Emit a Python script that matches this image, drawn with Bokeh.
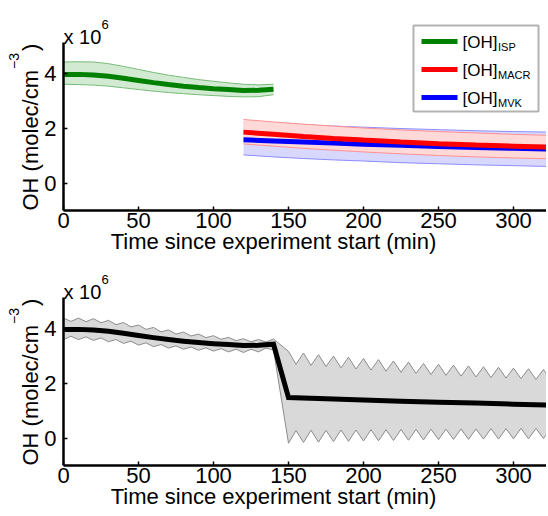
import math
from bokeh.plotting import figure
from bokeh.models import Label, BoxAnnotation, Range1d, FixedTicker
from bokeh.layouts import column
from bokeh.embed import file_html
from bokeh.resources import INLINE

# ---------------- data (OH in units of 1e6 molec/cm^3) ----------------
t_isp = [0, 10, 20, 30, 40, 50, 60, 70, 80, 90, 100, 110, 120, 130, 140]
oh_isp = [3.95, 3.95, 3.93, 3.88, 3.81, 3.73, 3.65, 3.58, 3.52, 3.47, 3.43, 3.40, 3.36, 3.37, 3.41]
oh_isp_hi = [4.40, 4.41, 4.40, 4.34, 4.24, 4.13, 4.02, 3.92, 3.84, 3.76, 3.70, 3.64, 3.59, 3.57, 3.59]
oh_isp_lo = [3.59, 3.58, 3.56, 3.52, 3.46, 3.40, 3.34, 3.29, 3.25, 3.21, 3.18, 3.15, 3.13, 3.14, 3.21]

t_mx = [120, 140, 160, 180, 200, 225, 250, 275, 300, 325]
oh_macr = [1.85, 1.77, 1.69, 1.62, 1.56, 1.49, 1.43, 1.38, 1.34, 1.30]
oh_macr_hi = [2.31, 2.22, 2.14, 2.07, 2.00, 1.93, 1.87, 1.82, 1.77, 1.73]
oh_macr_lo = [1.42, 1.34, 1.26, 1.19, 1.13, 1.06, 1.00, 0.95, 0.91, 0.88]
oh_mvk = [1.57, 1.53, 1.49, 1.45, 1.41, 1.37, 1.33, 1.29, 1.26, 1.23]
oh_mvk_hi = [2.20, 2.17, 2.12, 2.07, 2.03, 1.98, 1.94, 1.90, 1.87, 1.85]
oh_mvk_lo = [1.02, 0.95, 0.89, 0.84, 0.80, 0.74, 0.70, 0.66, 0.63, 0.60]

# combined OH after the switch from isoprene to MACR/MVK
t_comb = [150, 175, 200, 225, 250, 275, 300, 325]
oh_comb = [1.47, 1.43, 1.38, 1.34, 1.30, 1.27, 1.23, 1.20]

# combined uncertainty envelope (read at 5-min steps)
t_env_a = [0, 5, 10, 15, 20, 25, 30, 35, 40, 45, 50, 55, 60, 65, 70, 75, 80, 85, 90, 95,
           100, 105, 110, 115, 120, 125, 130, 135, 140]
env_hi_a = [4.36, 4.24, 4.36, 4.23, 4.34, 4.19, 4.28, 4.12, 4.20, 4.04, 4.11, 3.95, 4.02, 3.86,
            3.93, 3.78, 3.85, 3.71, 3.78, 3.65, 3.72, 3.59, 3.66, 3.54, 3.61, 3.50, 3.58, 3.49, 3.60]
env_lo_a = [3.58, 3.70, 3.58, 3.68, 3.55, 3.64, 3.50, 3.58, 3.44, 3.52, 3.38, 3.46, 3.32, 3.40,
            3.27, 3.35, 3.23, 3.31, 3.19, 3.28, 3.16, 3.25, 3.13, 3.23, 3.11, 3.23, 3.13, 3.27, 3.20]
t_env_b = [150, 155, 160, 165, 170, 175, 180, 185, 190, 195, 200, 205, 210, 215, 220, 225, 230,
           235, 240, 245, 250, 255, 260, 265, 270, 275, 280, 285, 290, 295, 300, 305, 310, 315, 320, 325]
env_hi_b = [3.15, 2.68, 3.09, 2.64, 3.03, 2.60, 2.98, 2.55, 2.94, 2.51, 2.89, 2.47, 2.85, 2.43,
            2.80, 2.39, 2.76, 2.35, 2.71, 2.31, 2.68, 2.28, 2.65, 2.25, 2.62, 2.22, 2.59, 2.20,
            2.57, 2.18, 2.54, 2.16, 2.52, 2.13, 2.49, 2.11]
env_lo_b = [-0.19, 0.27, -0.16, 0.28, -0.15, 0.28, -0.13, 0.29, -0.12, 0.29, -0.11, 0.30, -0.10,
            0.30, -0.09, 0.31, -0.08, 0.31, -0.07, 0.32, -0.06, 0.32, -0.05, 0.33, -0.05, 0.33,
            -0.04, 0.34, -0.04, 0.34, -0.03, 0.35, -0.03, 0.35, -0.02, 0.36]

x_ticks = [0, 50, 100, 150, 200, 250, 300]
y_ticks = [0, 2, 4]
legend_names = ["ISP", "MACR", "MVK"]

# ---------------- layout constants (pixels) ----------------
FONT = "Liberation Sans"
FS = 22
SX = 1.5            # px per minute
SY = 27.5           # px per 1e6 molec/cm3
AX_LEFT = 63        # y-axis position inside the frame
FW = 546
X_START = -AX_LEFT / SX
X_END = (FW - AX_LEFT) / SX
Y_BOT, Y_AX_TOP = -1.0, 5.1

GREEN, RED, BLUE = "#008000", "#ff0000", "#0000ff"


def label(p, x, y, text, size, angle=0.0):
    p.add_layout(Label(x=x, y=y, text=text, angle=angle, text_font=FONT,
                       text_font_size=f"{size}px", text_align="left",
                       text_baseline="alphabetic", text_color="black"))


def make_fig(frame_h, bottom_border):
    y_top = Y_BOT + frame_h / SY
    p = figure(frame_width=FW, frame_height=frame_h, x_range=Range1d(X_START, X_END),
               y_range=Range1d(Y_BOT, y_top), output_backend="svg", toolbar_location=None,
               min_border_left=0, min_border_right=0, min_border_top=0,
               min_border_bottom=bottom_border)
    p.outline_line_color = None
    p.grid.visible = False
    p.background_fill_color = "white"
    p.border_fill_color = "white"
    for ax in (p.xaxis[0], p.yaxis[0]):
        ax.axis_line_width = 2.5
        ax.axis_line_color = "black"
        ax.major_tick_in = 4
        ax.major_tick_out = 0
        ax.major_tick_line_width = 1.5
        ax.minor_tick_line_color = None
        ax.major_label_text_font = FONT
        ax.major_label_text_font_size = f"{FS}px"
        ax.major_label_text_color = "black"
    p.yaxis.fixed_location = 0
    p.xaxis.ticker = FixedTicker(ticks=x_ticks)
    p.yaxis.ticker = FixedTicker(ticks=y_ticks)
    p.xaxis.bounds = (0, X_END)
    p.yaxis.bounds = (Y_BOT, Y_AX_TOP)
    p.xaxis.major_label_standoff = 2
    p.yaxis.major_label_standoff = 7
    p.xaxis.axis_label = "Time since experiment start (min)"
    p.xaxis.axis_label_text_font = FONT
    p.xaxis.axis_label_text_font_size = f"{FS}px"
    p.xaxis.axis_label_text_font_style = "normal"
    p.xaxis.axis_label_text_color = "black"
    p.xaxis.axis_label_standoff = -2

    def xd(px):
        return X_START + px / SX

    def yd(px_above_axis_bottom):
        return Y_BOT + px_above_axis_bottom / SY

    # y axis label: OH (molec/cm^-3), rotated, built from pieces
    main_len = 6.389 * FS
    sup_len = 1.14 * 14
    label(p, xd(30), Y_BOT, "OH (molec/cm", FS, math.pi / 2)
    label(p, xd(13), yd(main_len + 1), "\u22123", 14, math.pi / 2)
    label(p, xd(30), yd(main_len + sup_len + 3), ")", FS, math.pi / 2)
    # x 10^6 multiplier
    y_mult = Y_AX_TOP + 6 / SY
    label(p, 0, y_mult, "x 10", 20)
    label(p, 38 / SX, y_mult + 12 / SY, "6", 13)
    return p


def band(p, t, hi, lo, fill, edge):
    p.patch(t + t[::-1], hi + lo[::-1], fill_color=fill, fill_alpha=1.0, line_color=None)
    p.line(t, hi, line_color=edge, line_width=1)
    p.line(t, lo, line_color=edge, line_width=1)


# ---------------- top panel ----------------
FH1 = 210
p1 = make_fig(FH1, 57)
band(p1, t_isp, oh_isp_hi, oh_isp_lo, "#d2e9d2", "#78bb78")
band(p1, t_mx, oh_mvk_hi, oh_mvk_lo, "#d8d8ff", "#8c8cff")
band(p1, t_mx, oh_macr_hi, oh_macr_lo, "#ffd8d8", "#ff9090")
p1.line(t_isp, oh_isp, line_color=GREEN, line_width=5)
p1.line(t_mx, oh_mvk, line_color=BLUE, line_width=5)
p1.line(t_mx, oh_macr, line_color=RED, line_width=5)


def xp(px):
    return X_START + px / SX


def yp1(py):
    return Y_BOT + (FH1 - py) / SY


# legend (drawn manually because of subscripts)
p1.add_layout(BoxAnnotation(left=xp(413), right=xp(538), top=yp1(25), bottom=yp1(111),
                            fill_color="white", fill_alpha=1, line_color="black", line_width=2,
                            level="underlay"))
row_py = [41, 69, 97]
for name, col, ry in zip(legend_names, [GREEN, RED, BLUE], row_py):
    yy = yp1(ry)
    p1.segment(x0=[xp(421)], y0=[yy], x1=[xp(457)], y1=[yy], line_color=col, line_width=5)
    label(p1, xp(462), yp1(ry + 1), "[OH]", 17)
    label(p1, xp(497.5), yp1(ry + 5), name, 11)

# ---------------- bottom panel ----------------
p2 = make_fig(198, 50)
t_env = t_env_a + t_env_b
env_hi = env_hi_a + env_hi_b
env_lo = env_lo_a + env_lo_b
band(p2, t_env, env_hi, env_lo, "#d9d9d9", "#8c8c8c")
p2.line(t_isp + t_comb, oh_isp + oh_comb, line_color="black", line_width=5, line_join="miter")

layout = column(p1, p2, spacing=0)
open("out.html", "w").write(file_html(layout, INLINE, title="OH"))
